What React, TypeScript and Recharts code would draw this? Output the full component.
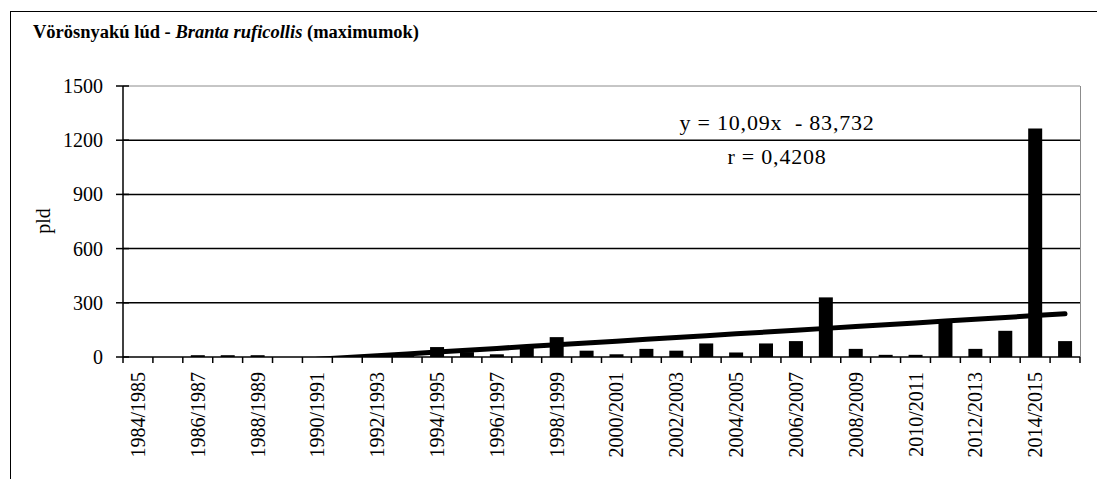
import React from "react";
import { ComposedChart, Bar, Line, XAxis, YAxis, ReferenceLine } from "recharts";

// seasons on the category axis
const seasons = [
  "1984/1985", "1985/1986", "1986/1987", "1987/1988", "1988/1989", "1989/1990",
  "1990/1991", "1991/1992", "1992/1993", "1993/1994", "1994/1995", "1995/1996",
  "1996/1997", "1997/1998", "1998/1999", "1999/2000", "2000/2001", "2001/2002",
  "2002/2003", "2003/2004", "2004/2005", "2005/2006", "2006/2007", "2007/2008",
  "2008/2009", "2009/2010", "2010/2011", "2011/2012", "2012/2013", "2013/2014",
  "2014/2015", "2015/2016",
];

// maximum counts (pld)
const maxima = [
  0, 0, 10, 10, 10, 0,
  0, 0, 0, 10, 55, 27,
  15, 55, 110, 35, 15, 45,
  35, 75, 25, 75, 88, 330,
  45, 12, 12, 200, 45, 145,
  1265, 88,
];

const yTicks = [0, 300, 600, 900, 1200, 1500];
const gridValues = [300, 600, 900, 1200];

// linear trend as printed on the chart
const trendSlope = 10.09;
const trendIntercept = -83.732;

const data = seasons.map((season, i) => ({
  season,
  max: maxima[i],
  trend: trendSlope * (i + 1) + trendIntercept,
}));

const W = 1097;
const H = 479;
const PLOT_LEFT = 123;
const PLOT_RIGHT = 1080;
const PLOT_TOP = 86;
const PLOT_BOTTOM = 357;
const band = (PLOT_RIGHT - PLOT_LEFT) / seasons.length;
const font = "'Liberation Serif', 'Times New Roman', serif";

function XTick(props: any) {
  const { x, index, payload } = props;
  const i = index ?? payload?.index ?? 0;
  const left = x - band / 2;
  return (
    <g>
      <line x1={left} x2={left} y1={PLOT_BOTTOM} y2={PLOT_BOTTOM + 6} stroke="#000" strokeWidth={1.5} />
      {i === seasons.length - 1 && (
        <line x1={x + band / 2} x2={x + band / 2} y1={PLOT_BOTTOM} y2={PLOT_BOTTOM + 6} stroke="#000" strokeWidth={1.5} />
      )}
      {i % 2 === 0 && (
        <text
          x={x}
          y={PLOT_BOTTOM + 15}
          transform={`rotate(-90, ${x}, ${PLOT_BOTTOM + 15})`}
          textAnchor="end"
          dominantBaseline="central"
          fontFamily={font}
          fontSize={20}
          fill="#000"
        >
          {payload.value}
        </text>
      )}
    </g>
  );
}

function YTick(props: any) {
  const { y, payload } = props;
  return (
    <g>
      <line x1={PLOT_LEFT - 7} x2={PLOT_LEFT + 6} y1={y} y2={y} stroke="#000" strokeWidth={1.5} />
      <text x={PLOT_LEFT - 20} y={y} textAnchor="end" dominantBaseline="central" fontFamily={font} fontSize={20} fill="#000">
        {payload.value}
      </text>
    </g>
  );
}

export default function App() {
  return (
    <div style={{ position: "absolute", left: 0, top: 0, width: W, height: H, overflow: "hidden", background: "#fff" }}>
      <div style={{ position: "absolute", left: 10, top: 11, width: 1200, height: 600, border: "1.5px solid #000", boxSizing: "border-box" }} />
      <div style={{ position: "absolute", left: 0, top: 0 }}>
        <ComposedChart width={W} height={H} data={data} margin={{ top: PLOT_TOP, right: W - PLOT_RIGHT, bottom: 22, left: 63 }}>
          <XAxis
            dataKey="season"
            interval={0}
            height={100}
            tickLine={false}
            tickSize={0}
            axisLine={{ stroke: "#000", strokeWidth: 1.5 }}
            tick={<XTick />}
          />
          <YAxis
            width={60}
            domain={[0, 1500]}
            ticks={yTicks}
            allowDataOverflow
            tickLine={false}
            tickSize={0}
            axisLine={{ stroke: "#000", strokeWidth: 1.5 }}
            tick={<YTick />}
          />
          <ReferenceLine y={1500} stroke="#8c8c8c" strokeWidth={1} />
          {gridValues.map((v) => (
            <ReferenceLine key={v} y={v} stroke="#000" strokeWidth={1.5} />
          ))}
          <Bar dataKey="max" fill="#000" barSize={14} isAnimationActive={false} />
          <Line
            dataKey="trend"
            type="linear"
            stroke="#000"
            strokeWidth={5}
            strokeLinecap="round"
            dot={false}
            activeDot={false}
            isAnimationActive={false}
          />
        </ComposedChart>
      </div>
      <div style={{ position: "absolute", left: PLOT_RIGHT, top: PLOT_TOP, width: 1, height: PLOT_BOTTOM - PLOT_TOP, background: "#8c8c8c" }} />
      <svg width={W} height={H} style={{ position: "absolute", left: 0, top: 0, pointerEvents: "none" }}>
        <text x={33} y={38} fontFamily={font} fontSize={18.5} fontWeight="bold" fill="#000">
          Vörösnyakú lúd - <tspan fontStyle="italic">Branta ruficollis</tspan> (maximumok)
        </text>
        <text
          x={43}
          y={221}
          transform="rotate(-90, 43, 221)"
          textAnchor="middle"
          dominantBaseline="central"
          fontFamily={font}
          fontSize={20}
          fill="#000"
        >
          pld
        </text>
        <text x={777} y={130} textAnchor="middle" fontFamily={font} fontSize={22} letterSpacing={0.8} style={{ whiteSpace: "pre" }} fill="#000">
          {"y = 10,09x  - 83,732"}
        </text>
        <text x={777} y={164} textAnchor="middle" fontFamily={font} fontSize={22} letterSpacing={0.8} style={{ whiteSpace: "pre" }} fill="#000">
          r = 0,4208
        </text>
      </svg>
    </div>
  );
}
